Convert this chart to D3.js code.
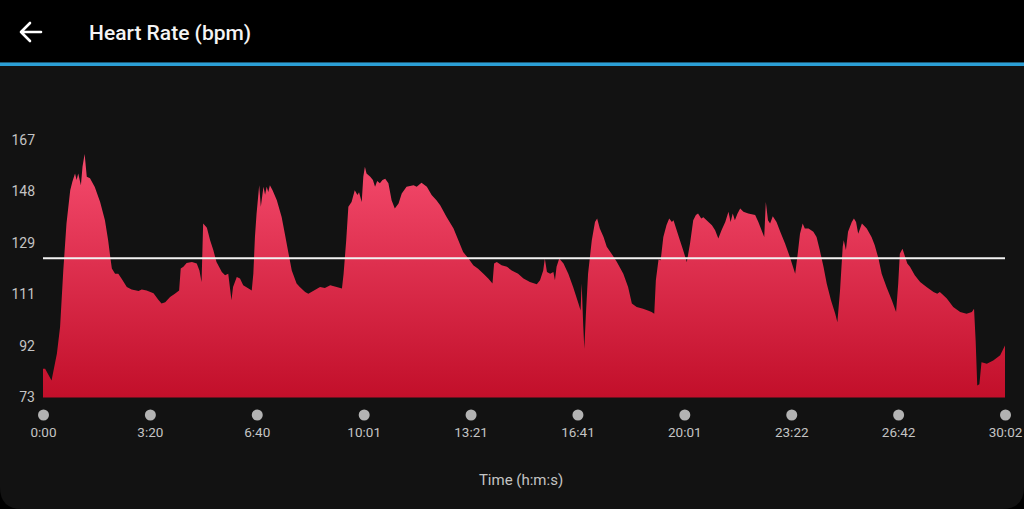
<!DOCTYPE html>
<html><head><meta charset="utf-8">
<script src="https://cdn.jsdelivr.net/npm/d3@7/dist/d3.min.js"></script>
<style>
html,body{margin:0;padding:0;background:#000;}
svg{display:block;font-family:Roboto,"Noto Sans",sans-serif;}
</style></head>
<body><svg id="c" width="1024" height="509"></svg>
<script>
// Time in seconds
const times = [0,4,16,26,32,38,44,51,55,60,63,66,71,74,78,82,88,97,107,116,122,126,129,135,141,147,157,166,179,185,194,207,216,222,229,238,247,255,258,263,269,279,288,293,297,300,307,313,319,325,335,341,347,353,356,363,369,375,385,391,394,397,400,405,408,413,416,419,422,425,430,438,447,453,460,466,475,481,491,497,506,519,528,538,550,560,563,568,572,578,584,589,592,597,600,603,606,613,618,622,626,631,636,641,647,653,659,666,672,681,694,700,709,719,728,737,744,756,769,778,787,797,806,815,825,834,842,845,850,859,869,878,890,900,912,925,931,937,940,944,950,956,959,962,967,975,984,993,1003,1007,1009,1012,1014,1017,1021,1028,1034,1038,1043,1050,1056,1065,1075,1087,1096,1103,1112,1124,1133,1140,1145,1148,1153,1157,1162,1168,1173,1178,1181,1187,1193,1199,1206,1212,1218,1223,1227,1233,1237,1243,1253,1259,1265,1271,1278,1284,1288,1292,1296,1301,1306,1312,1321,1334,1340,1346,1351,1354,1358,1362,1367,1374,1381,1390,1399,1409,1413,1418,1423,1427,1434,1443,1449,1455,1462,1468,1476,1484,1488,1493,1498,1500,1504,1508,1515,1519,1523,1527,1534,1543,1552,1558,1565,1571,1580,1590,1598,1602,1605,1610,1615,1619,1624,1633,1643,1655,1668,1675,1680,1693,1705,1718,1730,1740,1744,1747,1750,1754,1758,1768,1780,1793,1802];
// Heart rate in bpm
const bpm = [83.5,83.5,79.2,89,98.7,119.4,136.5,148.7,151.8,154.8,152.4,154.8,150.5,157.2,161.9,153.6,153,149.8,144.4,137.7,130.4,124.3,120.1,118.2,118.2,116.4,113.3,112.4,111.9,112.4,112.1,111.1,108.7,107.3,107.8,109.7,110.9,112.1,120.1,120.7,122.1,122.5,121.9,119.4,115.2,136.5,135,130.4,126.8,122.5,118.8,117.6,118.2,108.5,113.3,117,116.4,114,112.8,112.1,118.2,131.6,140,150.5,142.6,149.9,147,149.9,148,150.5,148.7,145,138.9,132.8,125.5,119.4,114.6,113.3,111.5,110.9,111.9,113.3,113,114,113.3,112.8,118,130.4,142.6,144.4,148.7,146.9,147.9,144.4,153.6,157.2,154.8,153.6,152.4,149.9,152,151.2,152.4,152.9,151.2,145,142,143.8,147.5,149.9,150.5,149.9,151.4,149.9,146.9,145,143.2,138.9,134.7,130.4,126.1,123.7,121.3,120,118.2,116.4,114.6,121.9,122.5,121.3,120.7,119.4,118.2,116.4,115.2,114.3,115.8,119.4,123.7,118.8,118.2,118.8,115.8,120.7,123.7,121.9,118.2,113.3,107.3,104.8,114.6,99,90.8,103.6,118.2,130.4,137.1,138.3,134.7,131.6,128,125.5,122.5,118.2,113.3,107.3,106,105.4,104.8,104.2,103.6,115.8,123.4,123.1,131.6,136,138.3,137.1,137.7,134.1,130.4,126.8,122.5,129.2,137.7,139.6,140.2,138.3,138.8,137.7,135.9,134.1,131,134.1,137.1,140.8,137.1,140.2,137.7,140.2,142,140.8,140.2,139.6,137.1,134.1,131.6,144.4,137.7,136.5,139.2,137.1,133.5,129.2,124.3,118.2,124.3,132.8,136.5,134.7,134.7,133.5,131.6,126.8,120.7,114.6,108.5,103.6,100.5,112.1,128,130.4,126.8,133.5,137.1,138.3,137.1,132.8,136.5,134.7,131.6,128.6,123.7,118.2,113.3,108.5,104.2,114.6,125.5,127.3,124.3,121.9,120.7,117.6,115.2,113.3,111.5,110.9,111.5,109.1,106,104.2,103.6,104.2,105.4,93.8,77.4,77.8,85.9,85.3,86.5,88.4,92];
const yTickValues = [73,91.8,110.6,129.4,148.2,167];
const xTickValues = [0,200.2,400.4,600.7,800.9,1001.1,1201.3,1401.6,1601.8,1802];
const xTickLabels = ["0:00","3:20","6:40","10:01","13:21","16:41","20:01","23:22","26:42","30:02"];
const avgBpm = 123.8;
const title = "Heart Rate (bpm)";
const xTitle = "Time (h:m:s)";

const svg = d3.select("#c");
const W = 1024, H = 509;

// panel background with rounded bottom corners
svg.append("path")
  .attr("d", `M0,62 H${W} V${H-22} Q${W},${H} ${W-22},${H} H22 Q0,${H} 0,${H-22} Z`)
  .attr("fill", "#121212");
// header
svg.append("rect").attr("x",0).attr("y",0).attr("width",W).attr("height",62).attr("fill","#000");
svg.append("rect").attr("x",0).attr("y",62.5).attr("width",W).attr("height",3.5).attr("fill","#2b9fd6");
// back arrow
const ar = svg.append("g").attr("stroke","#fff").attr("stroke-width",2.6).attr("fill","none").attr("stroke-linecap","round").attr("stroke-linejoin","round");
ar.append("path").attr("d","M41,32 H21 M30,23 L21,32 L30,41");
svg.append("text").attr("x",89).attr("y",40).attr("fill","#f4f4f4").attr("font-size",21).attr("font-weight",500).text(title);

const x = d3.scaleLinear().domain([0,1802]).range([43,1005]);
const y = d3.scaleLinear().domain([73,167]).range([397.5,140]);

const defs = svg.append("defs");
const g = defs.append("linearGradient").attr("id","fillg")
  .attr("gradientUnits","userSpaceOnUse").attr("x1",0).attr("x2",0).attr("y1",y(160)).attr("y2",y(73));
g.append("stop").attr("offset",0).attr("stop-color","#f44a6c");
g.append("stop").attr("offset",1).attr("stop-color","#c20f2a");

const data = times.map((t,i)=>({t, v:bpm[i]}));
const area = d3.area().x(d=>x(d.t)).y0(y(73)).y1(d=>y(d.v)).curve(d3.curveLinear);
svg.append("path").datum(data).attr("d",area).attr("fill","url(#fillg)");

// average line
svg.append("line").attr("x1",x(0)).attr("x2",x(1802)).attr("y1",y(avgBpm)).attr("y2",y(avgBpm))
  .attr("stroke","#f2f2f2").attr("stroke-width",2);

// y axis labels
const yAxis = d3.axisLeft(y).tickValues(yTickValues).tickSize(0).tickPadding(0).tickFormat(d=>Math.round(d));
const ya = svg.append("g").attr("transform","translate(35,0)").call(yAxis);
ya.select(".domain").remove();
ya.selectAll("text").attr("fill","#c4c4c4").attr("font-size",14).attr("font-family","Roboto,sans-serif");

// x axis
const xAxis = d3.axisBottom(x).tickValues(xTickValues).tickSize(0).tickPadding(0).tickFormat((d,i)=>xTickLabels[i]);
const xa = svg.append("g").attr("transform","translate(0,427)").call(xAxis);
xa.select(".domain").remove();
xa.selectAll("text").attr("fill","#c4c4c4").attr("font-size",13.5).attr("font-family","Roboto,sans-serif");
xa.selectAll(".tick").append("circle").attr("cx",0).attr("cy",-12).attr("r",5.5).attr("fill","#b3b3b3");

svg.append("text").attr("x",521).attr("y",485).attr("text-anchor","middle").attr("fill","#c4c4c4")
  .attr("font-size",15).attr("font-family","Roboto,sans-serif").text(xTitle);
</script></body></html>
